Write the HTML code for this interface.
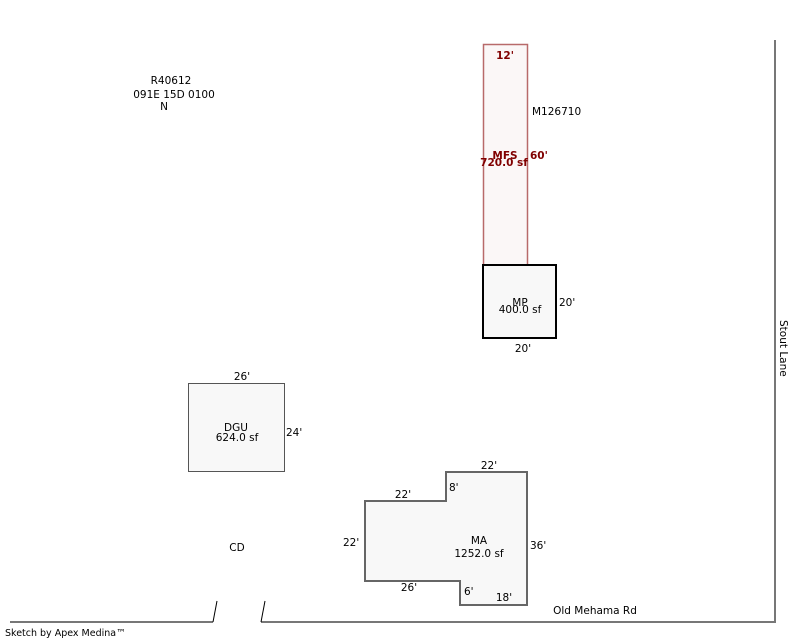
<!DOCTYPE html>
<html><head><meta charset="utf-8"><style>
html,body{margin:0;padding:0;background:#fff;}
svg{display:block;font-family:"DejaVu Sans","Liberation Sans",sans-serif;font-size:10.5px;}
</style></head><body>
<svg width="800" height="640" viewBox="0 0 800 640" xmlns="http://www.w3.org/2000/svg">
<polyline points="10,622 213,622" fill="none" stroke="#777" stroke-width="2"/>
<line x1="213" y1="622" x2="217" y2="601" stroke="#000" stroke-width="1"/>
<polyline points="261,622 775,622 775,40" fill="none" stroke="#777" stroke-width="2"/>
<line x1="265" y1="601" x2="261" y2="622" stroke="#000" stroke-width="1"/>
<rect x="483.5" y="44.5" width="44" height="221" fill="#fbf7f7" stroke="#b86a6a" stroke-width="1.5"/>
<rect x="483" y="265" width="73" height="73" fill="#f8f8f8" stroke="#000" stroke-width="2"/>
<rect x="188.5" y="383.5" width="96" height="88" fill="#f8f8f8" stroke="#555" stroke-width="1"/>
<polygon points="365,501 446,501 446,472 527,472 527,605 460,605 460,581 365,581" fill="#f8f8f8" stroke="#666" stroke-width="2"/>
<g fill="#000">
<text x="171" y="84" text-anchor="middle">R40612</text>
<text x="174" y="98" text-anchor="middle">091E 15D 0100</text>
<text x="164" y="110" text-anchor="middle">N</text>
<text x="532" y="115">M126710</text>
<text x="520" y="306" text-anchor="middle">MP</text>
<text x="520" y="313" text-anchor="middle">400.0 sf</text>
<text x="559" y="306">20'</text>
<text x="523" y="352" text-anchor="middle">20'</text>
<text x="242" y="380" text-anchor="middle">26'</text>
<text x="236" y="431" text-anchor="middle">DGU</text>
<text x="237" y="441" text-anchor="middle">624.0 sf</text>
<text x="286" y="436">24'</text>
<text x="489" y="469" text-anchor="middle">22'</text>
<text x="403" y="498" text-anchor="middle">22'</text>
<text x="449" y="491">8'</text>
<text x="343" y="546">22'</text>
<text x="479" y="544" text-anchor="middle">MA</text>
<text x="479" y="557" text-anchor="middle">1252.0 sf</text>
<text x="530" y="549">36'</text>
<text x="409" y="591" text-anchor="middle">26'</text>
<text x="464" y="595">6'</text>
<text x="504" y="601" text-anchor="middle">18'</text>
<text x="237" y="551" text-anchor="middle">CD</text>
<text x="595" y="614" text-anchor="middle">Old Mehama Rd</text>
<text x="5" y="636" font-size="9.5">Sketch by Apex Medina™</text>
<text transform="translate(780,320) rotate(90)" x="0" y="0">Stout Lane</text>
</g>
<g fill="#800000" font-weight="bold">
<text x="505" y="59" text-anchor="middle">12'</text>
<text x="505" y="159" text-anchor="middle">MFS</text>
<text x="504" y="166" text-anchor="middle">720.0 sf</text>
<text x="530" y="159">60'</text>
</g>
</svg>
</body></html>
